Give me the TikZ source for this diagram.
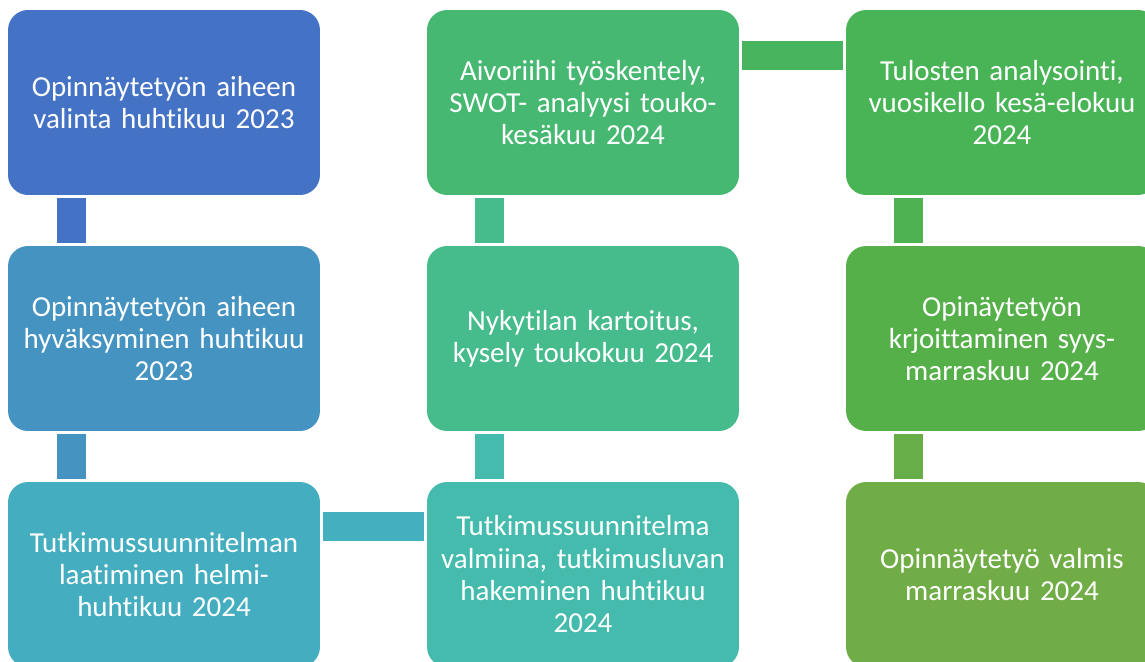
\documentclass[tikz,border=0pt]{standalone}
\usepackage{fontspec}
\setmainfont{Carlito}[Ligatures={NoCommon,NoRare}]
\usetikzlibrary{positioning,calc}
\definecolor{phaseA}{HTML}{4472C4}
\definecolor{phaseB}{HTML}{4593C1}
\definecolor{phaseC}{HTML}{44AEC0}
\definecolor{phaseD}{HTML}{44BBAC}
\definecolor{phaseE}{HTML}{46BB8C}
\definecolor{phaseF}{HTML}{47B872}
\definecolor{phaseG}{HTML}{48B455}
\definecolor{phaseH}{HTML}{56B04A}
\definecolor{phaseI}{HTML}{70AD47}
\tikzset{
    phase/.style = {
        shape=rectangle,
        rounded corners=0.4cm,
        minimum width=6.24cm,
        minimum height=3.7cm,
        text width=6cm,
        align=center,
        text=white,
        inner sep=0pt,
        font=\fontsize{16.5}{18.4}\selectfont
    },
    link/.style = {
        line width=0.58cm,
        shorten <=0.06cm,
        shorten >=0.06cm
    },
}

\begin{document}
\begin{tikzpicture}[x=0.02cm, y=0.02cm]
                \useasboundingbox (0,0) rectangle (1145,-662);
                \clip (0,0) rectangle (1145,-662);

                \node[phase, fill=phaseA] (sel) at (164,-102.5) {Opinnäytetyön aiheen\\valinta huhtikuu 2023};
                \node[phase, fill=phaseB] (appr) at (164,-338.5) {Opinnäytetyön aiheen\\hyväksyminen huhtikuu\\2023};
                \node[phase, fill=phaseC] (plan) at (164,-574.5) {Tutkimussuunnitelman\\laatiminen helmi-\\huhtikuu 2024};
                \node[phase, fill=phaseD] (ready) at (583,-574.5) {Tutkimussuunnitelma\\valmiina, tutkimusluvan\\hakeminen huhtikuu\\2024};
                \node[phase, fill=phaseE] (survey) at (583,-338.5) {Nykytilan kartoitus,\\kysely toukokuu 2024};
                \node[phase, fill=phaseF] (swot) at (583,-102.5) {Aivoriihi työskentely,\\SWOT- analyysi touko-\\kesäkuu 2024};
                \node[phase, fill=phaseG] (anal) at (1002,-102.5) {Tulosten analysointi,\\vuosikello kesä-elokuu\\2024};
                \node[phase, fill=phaseH] (write) at (1002,-338.5) {Opinäytetyön\\krjoittaminen syys-\\marraskuu 2024};
                \node[phase, fill=phaseI] (done) at (1002,-574.5) {Opinnäytetyö valmis\\marraskuu 2024};

                \path[draw, link, color=phaseA] ($(sel.south)+(-92.5,0)$) -- ($(appr.north)+(-92.5,0)$);
                \path[draw, link, color=phaseB] ($(appr.south)+(-92.5,0)$) -- ($(plan.north)+(-92.5,0)$);
                \path[draw, link, color=phaseC!90!phaseD] ($(plan.east)+(0,48)$) -- ($(ready.west)+(0,48)$);
                \path[draw, link, color=phaseD] ($(ready.north)+(-93.5,0)$) -- ($(survey.south)+(-93.5,0)$);
                \path[draw, link, color=phaseE] ($(survey.north)+(-93.5,0)$) -- ($(swot.south)+(-93.5,0)$);
                \path[draw, link, color=phaseF!30!phaseG] ($(swot.east)+(0,47)$) -- ($(anal.west)+(0,47)$);
                \path[draw, link, color=phaseG!60!phaseH] ($(anal.south)+(-93.5,0)$) -- ($(write.north)+(-93.5,0)$);
                \path[draw, link, color=phaseH!30!phaseI] ($(write.south)+(-93.5,0)$) -- ($(done.north)+(-93.5,0)$);
            \end{tikzpicture}
\end{document}
